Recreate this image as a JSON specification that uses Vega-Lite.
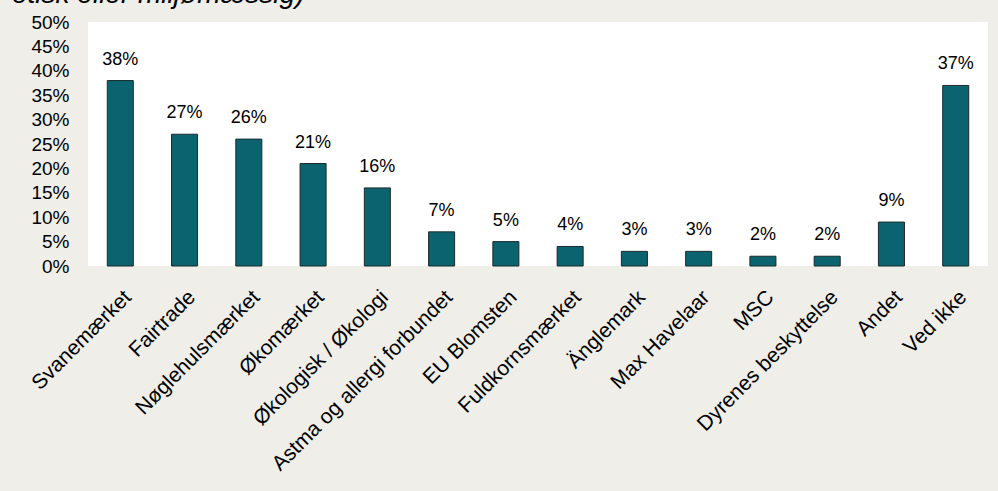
{
  "$schema": "https://vega.github.io/schema/vega-lite/v6.json",
  "autosize": {"type": "none"},
  "padding": {"left": 88, "top": 22, "right": 10, "bottom": 225},
  "width": 900,
  "height": 244,
  "background": "#efeee8",
  "title": {
    "text": "etisk eller miljømæssig)",
    "anchor": "start",
    "frame": "group",
    "dx": -76,
    "dy": 18,
    "offset": 0,
    "baseline": "alphabetic",
    "font": "Liberation Sans",
    "fontSize": 28,
    "fontStyle": "italic",
    "fontWeight": "normal",
    "color": "#000000"
  },
  "config": {
    "view": {"fill": "#ffffff", "stroke": null},
    "font": "Liberation Sans"
  },
  "data": {
    "values": [
      {"label": "Svanemærket", "share": 0.38},
      {"label": "Fairtrade", "share": 0.27},
      {"label": "Nøglehulsmærket", "share": 0.26},
      {"label": "Økomærket", "share": 0.21},
      {"label": "Økologisk / Økologi", "share": 0.16},
      {"label": "Astma og allergi forbundet", "share": 0.07},
      {"label": "EU Blomsten", "share": 0.05},
      {"label": "Fuldkornsmærket", "share": 0.04},
      {"label": "Änglemark", "share": 0.03},
      {"label": "Max Havelaar", "share": 0.03},
      {"label": "MSC", "share": 0.02},
      {"label": "Dyrenes beskyttelse", "share": 0.02},
      {"label": "Andet", "share": 0.09},
      {"label": "Ved ikke", "share": 0.37}
    ]
  },
  "encoding": {
    "x": {
      "field": "label",
      "type": "nominal",
      "sort": null,
      "scale": {"paddingInner": 0.595, "paddingOuter": 0.3},
      "axis": {
        "title": null,
        "domain": false,
        "ticks": false,
        "tickSize": 0,
        "labelAngle": -45,
        "labelAlign": "right",
        "labelBaseline": "top",
        "labelPadding": 20,
        "labelFontSize": 21,
        "labelColor": "#000000",
        "labelFont": "Liberation Sans",
        "labelLimit": 400
      }
    },
    "y": {
      "field": "share",
      "type": "quantitative",
      "scale": {"domain": [0, 0.5], "nice": false},
      "axis": {
        "title": null,
        "domain": false,
        "ticks": false,
        "tickSize": 0,
        "grid": false,
        "values": [0, 0.05, 0.1, 0.15, 0.2, 0.25, 0.3, 0.35, 0.4, 0.45, 0.5],
        "format": ".0%",
        "labelPadding": 19,
        "labelFontSize": 19,
        "labelColor": "#000000",
        "labelFont": "Liberation Sans"
      }
    }
  },
  "layer": [
    {
      "mark": {"type": "bar", "fill": "#0a636e", "stroke": "#1b2b2b", "strokeWidth": 1}
    },
    {
      "mark": {"type": "text", "baseline": "alphabetic", "dy": -16, "fontSize": 18, "color": "#000000", "font": "Liberation Sans"},
      "encoding": {
        "text": {"field": "share", "type": "quantitative", "format": ".0%"}
      }
    }
  ]
}
